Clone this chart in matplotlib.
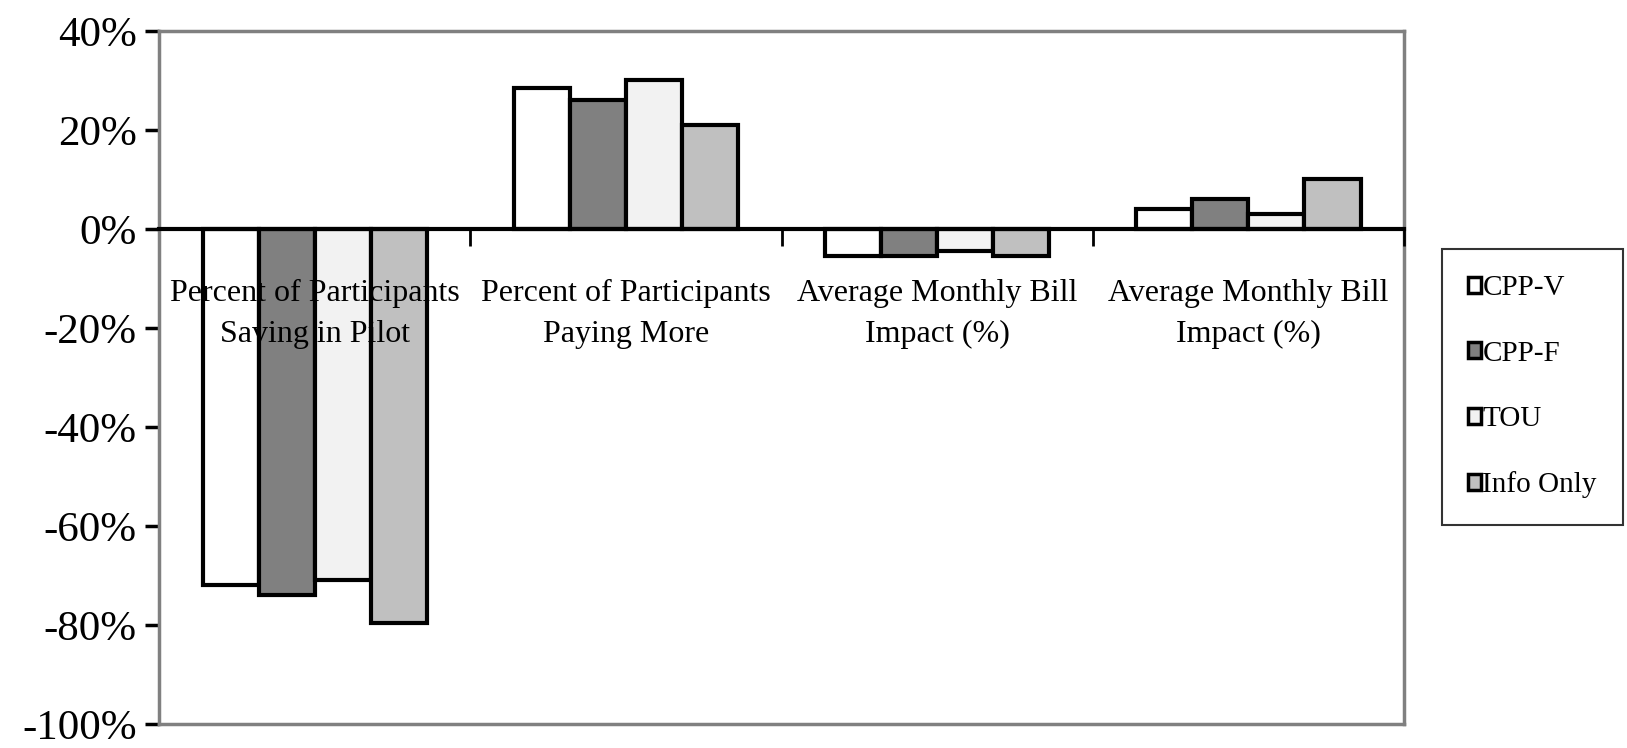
import matplotlib.pyplot as plt
import numpy as np
from matplotlib.ticker import FuncFormatter

categories = ["Percent of Participants\nSaving in Pilot",
              "Percent of Participants\nPaying More",
              "Average Monthly Bill\nImpact (%)",
              "Average Monthly Bill\nImpact (%)"]
series_names = ["CPP-V", "CPP-F", "TOU", "Info Only"]
cpp_v = [-72, 28.5, -5.5, 4]
cpp_f = [-74, 26, -5.5, 6]
tou = [-71, 30, -4.5, 3]
info_only = [-79.5, 21, -5.5, 10]
colors = ["#FFFFFF", "#808080", "#F2F2F2", "#C0C0C0"]

plt.rcParams['font.family'] = ['Liberation Serif', 'DejaVu Serif']

fig = plt.figure(figsize=(16.27, 7.48), dpi=100)
ax = fig.add_axes([0.0977, 0.032, 0.7653, 0.9266])

x = np.arange(len(categories))
width = 0.18
all_series = [cpp_v, cpp_f, tou, info_only]
for i, (vals, name, col) in enumerate(zip(all_series, series_names, colors)):
    ax.bar(x + (i - 1.5) * width, vals, width, color=col, edgecolor="black",
           linewidth=3, label=name, zorder=2)

ax.set_xlim(-0.5, 3.5)
ax.set_ylim(-100, 40)
ax.set_yticks(np.arange(-100, 41, 20))
ax.yaxis.set_major_formatter(FuncFormatter(lambda v, p: "{:.0f}%".format(v)))
ax.tick_params(axis="y", labelsize=31, length=10, width=2.5, color="black", pad=6)

# x axis sits at zero, black, with ticks on the category borders
ax.spines["bottom"].set_position(("data", 0))
ax.spines["bottom"].set_color("black")
ax.spines["bottom"].set_linewidth(3)
ax.spines["bottom"].set_zorder(4)
for s in ["top", "right", "left"]:
    ax.spines[s].set_color("#808080")
    ax.spines[s].set_linewidth(2.5)
ax.axhline(-100, color="#808080", linewidth=2.5, clip_on=False)
ax.xaxis.set_zorder(5)

ax.set_xticks(x)
ax.set_xticklabels(categories, fontsize=23, linespacing=1.55)
ax.tick_params(axis="x", which="major", length=0, pad=36)
ax.set_xticks(list(x[:-1] + 0.5) + [3.5], minor=True)
ax.tick_params(axis="x", which="minor", length=12, width=2, direction="out", color="black")

leg = ax.legend(loc="upper left", bbox_to_anchor=(0.886, 0.667), bbox_transform=fig.transFigure,
                fontsize=21, frameon=True, fancybox=False, handlelength=0.45, handleheight=0.45,
                handletextpad=0.05, labelspacing=1.35, borderpad=0.9, borderaxespad=0)
leg.get_frame().set_edgecolor("black")
leg.get_frame().set_linewidth(1.5)
for h in leg.legend_handles:
    h.set_linewidth(2.5)

fig.savefig("out.png", dpi=100)
